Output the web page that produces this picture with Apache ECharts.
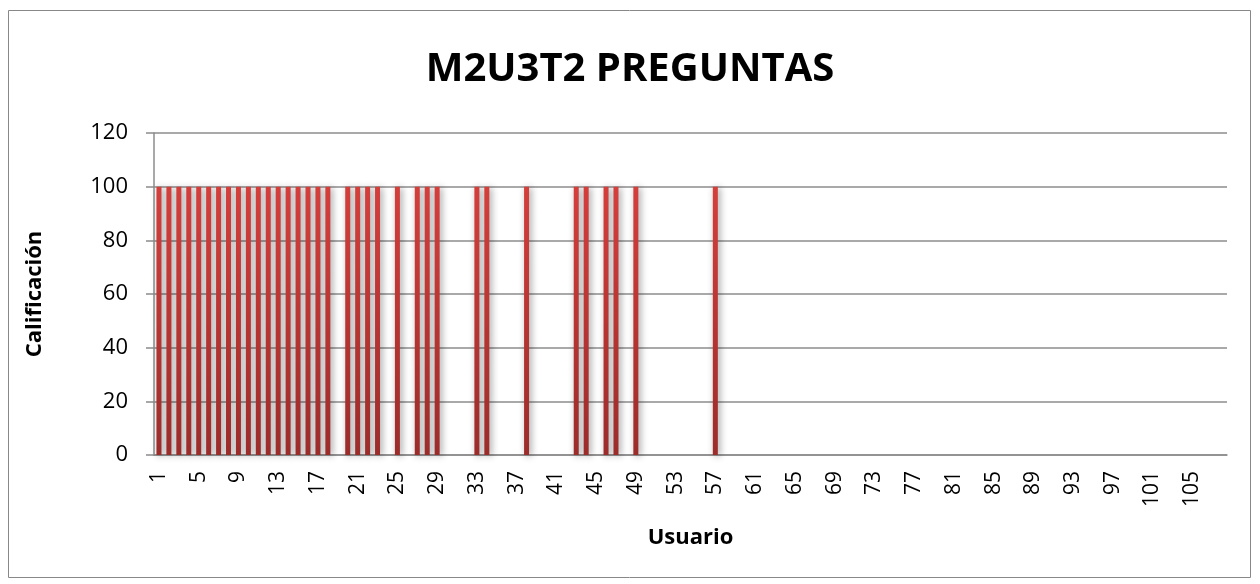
<!DOCTYPE html>
<html>
<head>
<meta charset="utf-8">
<title>M2U3T2 PREGUNTAS</title>
<script src="https://cdn.jsdelivr.net/npm/echarts@6/dist/echarts.min.js"></script>
<style>
  html, body { margin: 0; padding: 0; background: #fff; }
  #chart { width: 1260px; height: 584px; }
</style>
</head>
<body>
<div id="chart"></div>
<script>
// usuarios (eje x)
var usuarios = ['1','2','3','4','5','6','7','8','9','10','11','12','13','14','15','16','17','18','19','20',
  '21','22','23','24','25','26','27','28','29','30','31','32','33','34','35','36','37','38','39','40',
  '41','42','43','44','45','46','47','48','49','50','51','52','53','54','55','56','57','58','59','60',
  '61','62','63','64','65','66','67','68','69','70','71','72','73','74','75','76','77','78','79','80',
  '81','82','83','84','85','86','87','88','89','90','91','92','93','94','95','96','97','98','99','100',
  '101','102','103','104','105','106','107','108']

// calificación por usuario
var calificaciones = [
  100,100,100,100,100,100,100,100,100,100, // 1-10
  100,100,100,100,100,100,100,100,0,100,   // 11-20
  100,100,100,0,100,0,100,100,100,0,       // 21-30
  0,0,100,100,0,0,0,100,0,0,               // 31-40
  0,0,100,100,0,100,100,0,100,0,           // 41-50
  0,0,0,0,0,0,100,0,0,0,                   // 51-60
  0,0,0,0,0,0,0,0,0,0,                     // 61-70
  0,0,0,0,0,0,0,0,0,0,                     // 71-80
  0,0,0,0,0,0,0,0,0,0,                     // 81-90
  0,0,0,0,0,0,0,0,0,0,                     // 91-100
  0,0,0,0,0,0,0,0                          // 101-108
]

var yTicks = { min: 0, max: 120, step: 20 }

var chart = echarts.init(document.getElementById('chart'))
var font = '"Open Sans", "Noto Sans", sans-serif'

chart.setOption({
  animation: false,
  textStyle: { fontFamily: font },
  title: {
    text: 'M2U3T2 PREGUNTAS',
    left: 'center',
    top: 45,
    textStyle: { fontSize: 40, fontWeight: 'bold', color: '#000', fontFamily: font }
  },
  graphic: [{
    type: 'rect',
    shape: { x: 8.5, y: 10.5, width: 1242, height: 567 },
    style: { fill: 'none', stroke: '#888', lineWidth: 1 },
    silent: true,
    z: -1
  }],
  grid: {
    left: 154,
    right: 33,
    top: 133,
    bottom: 129
  },
  xAxis: {
    type: 'category',
    data: usuarios,
    name: 'Usuario',
    nameLocation: 'middle',
    nameGap: 72,
    nameTextStyle: { fontSize: 22, fontWeight: 'bold', color: '#000' },
    axisLine: { lineStyle: { color: '#8c8c8c', width: 1.5 } },
    axisTick: { show: false },
    axisLabel: {
      interval: 3,
      rotate: 90,
      margin: 16,
      fontSize: 21,
      color: '#000'
    }
  },
  yAxis: {
    type: 'value',
    min: yTicks.min,
    max: yTicks.max,
    interval: yTicks.step,
    name: 'Calificación',
    nameLocation: 'middle',
    nameGap: 108,
    nameTextStyle: { fontSize: 22, fontWeight: 'bold', color: '#000' },
    axisLine: { show: true, lineStyle: { color: '#8c8c8c', width: 1.5 } },
    axisTick: { show: true, length: 8, lineStyle: { color: '#8c8c8c', width: 1.5 } },
    axisLabel: { fontSize: 22, color: '#000', margin: 26 },
    splitLine: { lineStyle: { color: '#8c8c8c', width: 1.5 } }
  },
  series: [{
    type: 'bar',
    data: calificaciones,
    barWidth: 5,
    itemStyle: {
      color: new echarts.graphic.LinearGradient(0, 0, 0, 1, [
        { offset: 0, color: '#d43e3b' },
        { offset: 1, color: '#9b2c2a' }
      ]),
      shadowColor: 'rgba(0,0,0,0.4)',
      shadowBlur: 7,
      shadowOffsetX: 2,
      shadowOffsetY: 1
    }
  }]
})
</script>
</body>
</html>
